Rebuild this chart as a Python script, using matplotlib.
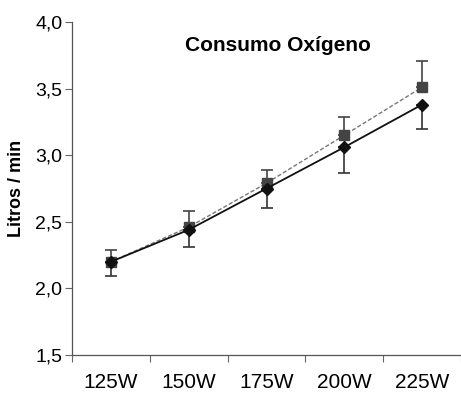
import matplotlib
matplotlib.use("Agg")
import matplotlib.pyplot as plt
import numpy as np

categories = ["125W", "150W", "175W", "200W", "225W"]
square_vals = [2.20, 2.46, 2.79, 3.15, 3.51]
square_err = [0.09, 0.12, 0.10, 0.14, 0.20]
diamond_vals = [2.20, 2.44, 2.75, 3.06, 3.38]
diamond_err = [0.11, 0.13, 0.15, 0.19, 0.18]
yticks = [1.5, 2.0, 2.5, 3.0, 3.5, 4.0]
ytick_labels = ["1,5", "2,0", "2,5", "3,0", "3,5", "4,0"]

fam = "Liberation Sans"

fig = plt.figure(figsize=(4.61, 4.04), dpi=100)
ax = fig.add_axes([72/461, 1 - 355/404, 1 - 72/461, (355 - 22)/404])

x = np.arange(len(categories))
ax.errorbar(x, square_vals, yerr=[np.zeros(5), square_err], color="#777777",
            linestyle=(0, (3, 1.5)), linewidth=1.0, marker="s", markersize=7,
            markerfacecolor="#444444", markeredgecolor="#444444",
            ecolor="#444444", elinewidth=1.2, capsize=4, capthick=1.2, zorder=2)
ax.errorbar(x, diamond_vals, yerr=[diamond_err, np.zeros(5)], color="#111111",
            linestyle="-", linewidth=1.3, marker="D", markersize=6,
            markerfacecolor="#111111", markeredgecolor="#111111",
            ecolor="#333333", elinewidth=1.2, capsize=4, capthick=1.2, zorder=3)

ax.set_ylim(1.5, 4.0)
ax.set_xlim(-0.5, 4.36)
ax.set_yticks(yticks)
ax.set_yticklabels(ytick_labels, fontsize=14, family=fam)
ax.set_xticks(x)
ax.set_xticklabels(categories, fontsize=15, family=fam)
ax.set_xticks(np.arange(-0.5, 4.6, 1.0), minor=True)
ax.tick_params(axis="x", which="major", length=0, pad=13)
ax.tick_params(axis="x", which="minor", length=5, width=0.8, color="#666666")
ax.tick_params(axis="y", length=5, width=0.8, color="#666666", pad=2)
for s in ["top", "right"]:
    ax.spines[s].set_visible(False)
for s in ["left", "bottom"]:
    ax.spines[s].set_color("#555555")
    ax.spines[s].set_linewidth(0.9)

ax.set_ylabel("Litros / min", fontsize=13, family=fam, fontweight="bold")
ax.yaxis.set_label_coords(-0.12, 0.5)
ax.text(0.53, 0.93, "Consumo Oxígeno", transform=ax.transAxes, ha="center",
        va="center", fontsize=15, family=fam, fontweight="bold")

fig.savefig("out.png", dpi=100)
